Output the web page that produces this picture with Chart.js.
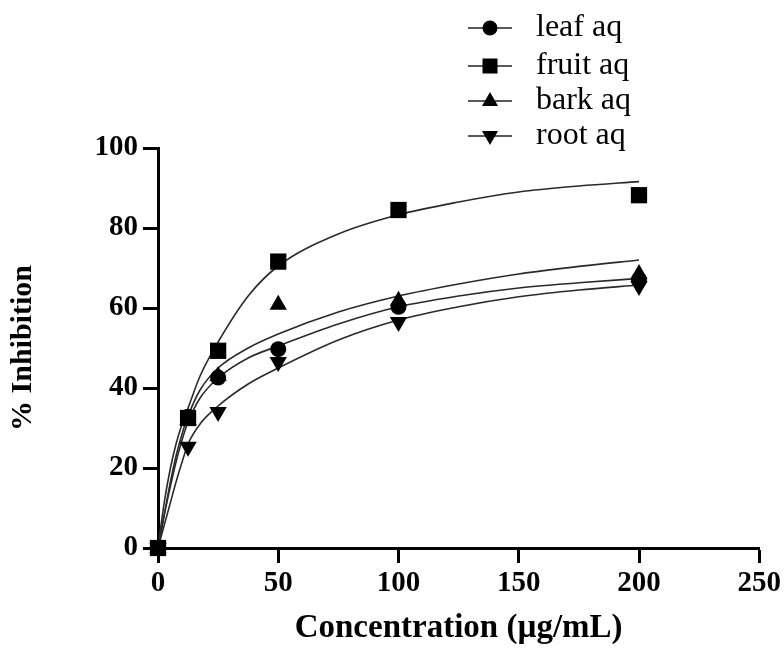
<!DOCTYPE html>
<html>
<head>
  <title>Inhibition vs Concentration</title>
  <script src="https://cdn.jsdelivr.net/npm/chart.js"></script>
  <style>
    html, body { margin: 0; padding: 0; background: #ffffff; }
    #wrap { width: 784px; height: 653px; }
  </style>
</head>
<body>
  <div id="wrap"><canvas id="inhibChart" width="784" height="653"></canvas></div>

  <script>
    // measured points (µg/mL vs % inhibition)
    const concentrations = [0, 12.5, 25, 50, 100, 200];
    const leafAq  = [0, 32.8, 42.6, 49.7, 60.3, 67.0];
    const fruitAq = [0, 32.5, 49.3, 71.6, 84.5, 88.2];
    const barkAq  = [0, 32.0, 43.0, 60.8, 61.8, 68.5];
    const rootAq  = [0, 25.3, 34.0, 46.5, 56.5, 65.5];

    // fitted curves, sampled along the concentration axis
    const curveX   = [0, 2.5, 5, 7.5, 10, 12.5, 17.5, 25, 37.5, 50, 75, 100, 125, 150, 175, 200];
    const leafFit  = [0, 8, 15, 21.5, 27, 31.5, 37.5, 42.5, 47.5, 50.5, 56, 60.3, 63, 65, 66.3, 67.4];
    const fruitFit = [0, 11, 19.5, 26, 31, 35, 43, 51.5, 63, 70.5, 78.5, 83.3, 86.5, 89, 90.5, 91.6];
    const barkFit  = [0, 8, 16, 23, 28.5, 33, 39.5, 45, 50, 53.5, 59, 63, 66, 68.5, 70.4, 72];
    const rootFit  = [0, 5.5, 11, 16.5, 21.5, 26, 31, 35.5, 41, 45, 52, 57, 60.3, 62.8, 64.5, 65.75];

    const seriesNames = ['leaf aq', 'fruit aq', 'bark aq', 'root aq'];

    const serif = "'Liberation Serif', 'Times New Roman', serif";

    function toPoints(xs, ys) {
      return xs.map((x, i) => ({ x: x, y: ys[i] }));
    }

    // marker look for each series: [pointStyle, radius, rotation]
    const markers = [
      ['circle', 8, 0],
      ['rect', 11.5, 0],
      ['triangle', 10, 0],
      ['triangle', 10, 180]
    ];

    function curveSet(ys) {
      return {
        data: toPoints(curveX, ys),
        showLine: true,
        borderColor: '#2a2a2a',
        borderWidth: 1.6,
        pointRadius: 0,
        cubicInterpolationMode: 'monotone',
        order: 10
      };
    }

    function markerSet(ys, i, order) {
      return {
        data: toPoints(concentrations, ys),
        showLine: false,
        pointStyle: markers[i][0],
        pointRadius: markers[i][1],
        rotation: markers[i][2],
        backgroundColor: '#000000',
        borderColor: '#000000',
        borderWidth: 0,
        clip: false,
        order: order
      };
    }

    // draws one marker shape for the legend
    function drawMarker(ctx, style, x, y) {
      ctx.beginPath();
      if (style === 0) {
        ctx.arc(x, y, 7.5, 0, Math.PI * 2);
      } else if (style === 1) {
        ctx.rect(x - 7.5, y - 7.5, 15, 15);
      } else if (style === 2) {
        ctx.moveTo(x, y - 9);
        ctx.lineTo(x + 8, y + 5);
        ctx.lineTo(x - 8, y + 5);
      } else {
        ctx.moveTo(x, y + 9);
        ctx.lineTo(x + 8, y - 5);
        ctx.lineTo(x - 8, y - 5);
      }
      ctx.closePath();
      ctx.fill();
    }

    const legendPlugin = {
      id: 'sideLegend',
      afterDraw(chart) {
        const ctx = chart.ctx;
        const rows = [28, 66, 101, 136];
        ctx.save();
        ctx.fillStyle = '#000';
        ctx.strokeStyle = '#222';
        ctx.lineWidth = 1.6;
        ctx.font = '32px ' + serif;
        ctx.textBaseline = 'middle';
        seriesNames.forEach((name, i) => {
          const y = rows[i];
          ctx.beginPath();
          ctx.moveTo(468, y);
          ctx.lineTo(512, y);
          ctx.stroke();
          drawMarker(ctx, i, 490, y);
          ctx.fillText(name, 536, y);
        });
        ctx.restore();
      }
    };

    const axisFont = { family: serif, size: 29, weight: 'bold' };

    new Chart(document.getElementById('inhibChart'), {
      type: 'scatter',
      data: {
        datasets: [
          curveSet(leafFit),
          curveSet(fruitFit),
          curveSet(barkFit),
          curveSet(rootFit),
          markerSet(leafAq, 0, 3),
          markerSet(fruitAq, 1, 0),
          markerSet(barkAq, 2, 2),
          markerSet(rootAq, 3, 1)
        ]
      },
      plugins: [legendPlugin],
      options: {
        responsive: false,
        animation: false,
        events: [],
        layout: { padding: { top: 148, right: 22, left: 0, bottom: 0 } },
        plugins: {
          legend: { display: false },
          tooltip: { enabled: false }
        },
        scales: {
          x: {
            type: 'linear',
            min: 0,
            max: 250,
            afterFit(scale) { scale.height = 105; },
            border: { display: true, color: '#000', width: 3 },
            grid: { drawOnChartArea: false, drawTicks: true, tickLength: 15, tickWidth: 3, tickColor: '#000' },
            ticks: { stepSize: 50, color: '#000', font: axisFont, padding: 3, maxRotation: 0 },
            title: { display: true, text: 'Concentration (µg/mL)', color: '#000', font: { family: serif, size: 33, weight: 'bold' }, padding: { top: 0, bottom: 5 } }
          },
          y: {
            type: 'linear',
            min: 0,
            max: 100,
            afterFit(scale) { scale.width = 158; },
            border: { display: true, color: '#000', width: 3 },
            grid: { drawOnChartArea: false, drawTicks: true, tickLength: 15, tickWidth: 3, tickColor: '#000' },
            ticks: { stepSize: 20, color: '#000', font: axisFont, padding: 5 },
            title: { display: true, text: '% Inhibition', color: '#000', font: { family: serif, size: 30, weight: 'bold' }, padding: { top: 5, bottom: 0 } }
          }
        }
      }
    });
  </script>
</body>
</html>
